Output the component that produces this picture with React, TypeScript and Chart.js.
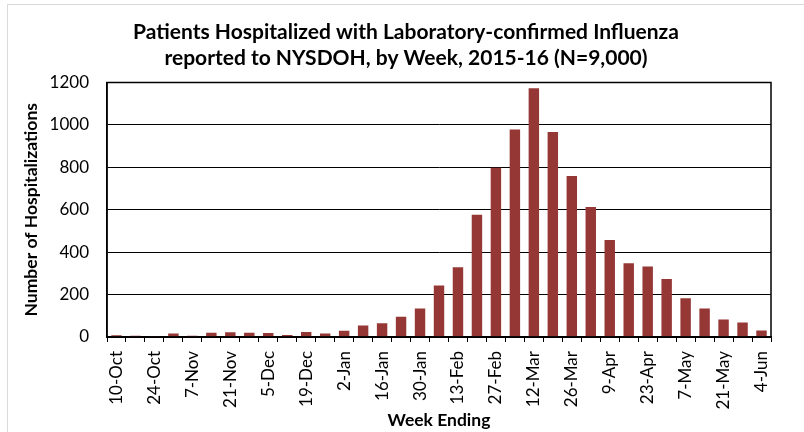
import React, { useEffect, useRef } from "react";
import { Chart, registerables } from "chart.js";

Chart.register(...registerables);

const weeks: string[] = [
  "10-Oct", "17-Oct", "24-Oct", "31-Oct", "7-Nov", "14-Nov", "21-Nov", "28-Nov",
  "5-Dec", "12-Dec", "19-Dec", "26-Dec", "2-Jan", "9-Jan", "16-Jan", "23-Jan",
  "30-Jan", "6-Feb", "13-Feb", "20-Feb", "27-Feb", "5-Mar", "12-Mar", "19-Mar",
  "26-Mar", "2-Apr", "9-Apr", "16-Apr", "23-Apr", "30-Apr", "7-May", "14-May",
  "21-May", "28-May", "4-Jun",
];

const hospitalizations: number[] = [
  8, 6, 5, 16, 6, 20, 22, 20, 19, 10, 24, 16, 30, 54, 65, 96,
  134, 243, 329, 576, 798, 978, 1173, 967, 759, 613, 457, 348, 332, 274, 183, 134,
  83, 68, 31,
];

const titleLines: string[] = [
  "Patients Hospitalized with Laboratory-confirmed Influenza",
  "reported to NYSDOH, by Week, 2015-16 (N=9,000)",
];
const yAxisTitle = "Number of Hospitalizations";
const xAxisTitle = "Week Ending";
const yTicks: number[] = [0, 200, 400, 600, 800, 1000, 1200];

const FONT = "Lato, 'Open Sans', sans-serif";

const framePlugin = {
  id: "frame",
  beforeDraw(chart: any) {
    const ctx = chart.ctx;
    ctx.save();
    ctx.fillStyle = "#ffffff";
    ctx.fillRect(0, 0, chart.width, chart.height);
    ctx.strokeStyle = "#d9d9d9";
    ctx.lineWidth = 1;
    ctx.beginPath();
    ctx.moveTo(7.5, chart.height);
    ctx.lineTo(7.5, 4.5);
    ctx.lineTo(chart.width, 4.5);
    ctx.stroke();
    ctx.restore();
  },
  afterDraw(chart: any) {
    const { ctx, chartArea } = chart;
    ctx.save();
    ctx.strokeStyle = "#000000";
    ctx.lineWidth = 1.5;
    ctx.strokeRect(
      chartArea.left,
      chartArea.top,
      chartArea.right - chartArea.left,
      chartArea.bottom - chartArea.top
    );
    ctx.restore();
  },
};

export default function App() {
  const ref = useRef<HTMLCanvasElement | null>(null);

  useEffect(() => {
    if (!ref.current) return;
    const chart = new Chart(ref.current, {
      type: "bar",
      data: {
        labels: weeks,
        datasets: [
          {
            label: "Hospitalizations",
            data: hospitalizations,
            backgroundColor: "#953735",
            borderWidth: 0,
            categoryPercentage: 1,
            barPercentage: 0.55,
          },
        ],
      },
      options: {
        responsive: false,
        animation: false,
        layout: { padding: { top: 4, right: 33, left: 41, bottom: 0 } },
        plugins: {
          legend: { display: false },
          tooltip: { enabled: false },
          title: {
            display: true,
            text: titleLines,
            color: "#000000",
            font: { family: FONT, size: 21, weight: "bold", lineHeight: 1.25 },
            padding: { top: 15, bottom: 11 },
          },
        },
        scales: {
          x: {
            grid: {
              offset: true,
              drawOnChartArea: false,
              drawTicks: true,
              tickLength: 5,
              color: "#000000",
            },
            border: { color: "#000000", width: 1.5 },
            ticks: {
              autoSkip: false,
              minRotation: 90,
              maxRotation: 90,
              padding: 9,
              color: "#000000",
              font: { family: FONT, size: 17 },
              callback: (_v: any, i: number) => (i % 2 === 0 ? weeks[i] : ""),
            },
            title: {
              display: true,
              text: xAxisTitle,
              color: "#000000",
              font: { family: FONT, size: 17.5, weight: "bold" },
              padding: { top: 0, bottom: 1 },
            },
            afterFit: (scale: any) => {
              scale.height = 95;
            },
          },
          y: {
            min: 0,
            max: 1200,
            afterBuildTicks: (scale: any) => {
              scale.ticks = yTicks.map((v) => ({ value: v }));
            },
            grid: { color: "#000000", drawTicks: false, lineWidth: 1 },
            border: { color: "#000000", width: 1.5 },
            ticks: {
              padding: 18,
              color: "#000000",
              font: { family: FONT, size: 17 },
              callback: (v: any) => String(v),
            },
            title: {
              display: true,
              text: yAxisTitle,
              color: "#000000",
              font: { family: FONT, size: 17.5, weight: "bold" },
              padding: { top: -20, bottom: 0 },
            },
            afterFit: (scale: any) => {
              scale.width = 66;
            },
          },
        },
      },
      plugins: [framePlugin],
    });
    return () => chart.destroy();
  }, []);

  return (
    <div style={{ position: "fixed", left: 0, top: 0, width: 804, height: 432 }}>
      <canvas ref={ref} width={804} height={432} style={{ width: 804, height: 432, display: "block" }} />
    </div>
  );
}
